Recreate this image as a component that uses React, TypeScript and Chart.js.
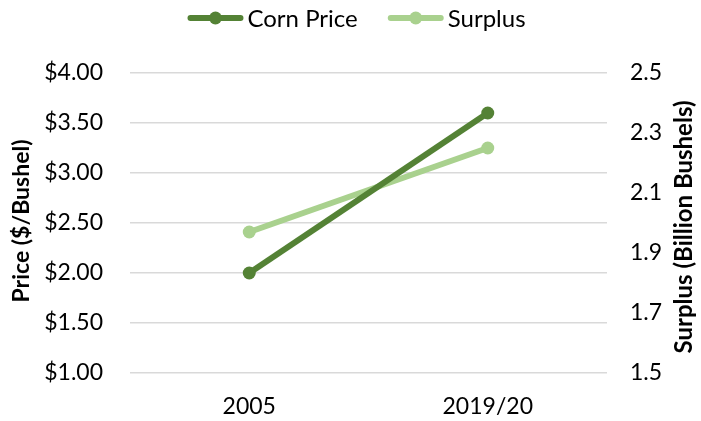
import React, { useEffect, useRef } from "react";
import { Chart, registerables } from "chart.js";

Chart.register(...registerables);

const categories = ["2005", "2019/20"];
const cornPrice = [2.0, 3.6];
const surplus = [1.97, 2.25];
const seriesNames = ["Corn Price", "Surplus"];
const colors = ["#548235", "#A9D18E"];
const leftTitle = "Price ($/Bushel)";
const rightTitle = "Surplus (Billion Bushels)";
const FONT = "Lato";

const customPlugin = {
  id: "customDecor",
  afterDraw(chart: any) {
    const ctx = chart.ctx as CanvasRenderingContext2D;
    const area = chart.chartArea;
    const midY = (area.top + area.bottom) / 2;
    ctx.save();
    // axis titles
    ctx.fillStyle = "#000";
    ctx.font = `bold 23px ${FONT}`;
    ctx.textAlign = "center";
    ctx.textBaseline = "middle";
    const ys = chart.scales.y;
    ctx.save();
    ctx.translate(ys.left - 23, midY - 2);
    ctx.rotate(-Math.PI / 2);
    ctx.fillText(leftTitle, 0, 0);
    ctx.restore();
    const y1 = chart.scales.y1;
    ctx.save();
    ctx.translate(y1.right + 22, midY + 4);
    ctx.rotate(-Math.PI / 2);
    ctx.font = `bold 24px ${FONT}`;
    ctx.fillText(rightTitle, 0, 0);
    ctx.restore();

    // legend
    ctx.font = `24px ${FONT}`;
    const iconW = 56;
    const gap = 4;
    const spacing = 30;
    const widths = seriesNames.map((s) => ctx.measureText(s).width);
    const total = widths.reduce((a, w) => a + iconW + gap + w, 0) + spacing * (seriesNames.length - 1);
    let x = chart.width / 2 - total / 2 + 6;
    const ly = 18;
    seriesNames.forEach((name, i) => {
      ctx.strokeStyle = colors[i];
      ctx.lineWidth = 6;
      ctx.lineCap = "round";
      ctx.beginPath();
      ctx.moveTo(x + 3, ly);
      ctx.lineTo(x + iconW - 3, ly);
      ctx.stroke();
      ctx.fillStyle = colors[i];
      ctx.beginPath();
      ctx.arc(x + iconW / 2, ly, 6.5, 0, Math.PI * 2);
      ctx.fill();
      ctx.fillStyle = "#000";
      ctx.textAlign = "left";
      ctx.fillText(name, x + iconW + gap, ly + 1);
      x += iconW + gap + widths[i] + spacing;
    });
    ctx.restore();
  },
};

export default function App() {
  const ref = useRef<HTMLCanvasElement>(null);
  useEffect(() => {
    const chart = new Chart(ref.current!, {
      type: "line",
      data: {
        labels: categories,
        datasets: [
          {
            label: seriesNames[0],
            data: cornPrice,
            borderColor: colors[0],
            backgroundColor: colors[0],
            borderWidth: 6,
            pointRadius: 6.5,
            pointHoverRadius: 6.5,
            pointBorderWidth: 0,
            yAxisID: "y",
          },
          {
            label: seriesNames[1],
            data: surplus,
            borderColor: colors[1],
            backgroundColor: colors[1],
            borderWidth: 6,
            pointRadius: 6.5,
            pointHoverRadius: 6.5,
            pointBorderWidth: 0,
            yAxisID: "y1",
          },
        ],
      },
      plugins: [customPlugin],
      options: {
        animation: false,
        responsive: false,
        layout: { padding: { left: 45, right: 39, top: 73, bottom: 0 } },
        plugins: {
          tooltip: { enabled: false },
          legend: { display: false },
        },
        scales: {
          x: {
            offset: true,
            grid: { display: false, drawTicks: false },
            border: { display: false },
            afterFit: (s: any) => {
              s.height = 48;
            },
            ticks: { color: "#000", font: { family: FONT, size: 23 }, padding: 20 },
          },
          y: {
            position: "left",
            min: 1,
            max: 4,
            grid: { color: "#D9D9D9", lineWidth: 1.5, drawTicks: false },
            border: { display: false },
            afterFit: (s: any) => {
              s.width = 85;
            },
            ticks: {
              stepSize: 0.5,
              color: "#000",
              padding: 27,
              font: { family: FONT, size: 23 },
              callback: (v: any) => "$" + Number(v).toFixed(2),
            },
          },
          y1: {
            position: "right",
            min: 1.5,
            max: 2.5,
            grid: { display: false, drawTicks: false },
            border: { display: false },
            afterFit: (s: any) => {
              s.width = 55;
            },
            ticks: {
              stepSize: 0.2,
              color: "#000",
              padding: 23,
              font: { family: FONT, size: 23 },
              callback: (v: any) => Number(v).toFixed(1),
            },
          },
        },
      },
    });
    return () => chart.destroy();
  }, []);
  return (
    <div style={{ position: "fixed", left: 0, top: 0, width: 701, height: 421, background: "#fff" }}>
      <canvas ref={ref} width={701} height={421} />
    </div>
  );
}
